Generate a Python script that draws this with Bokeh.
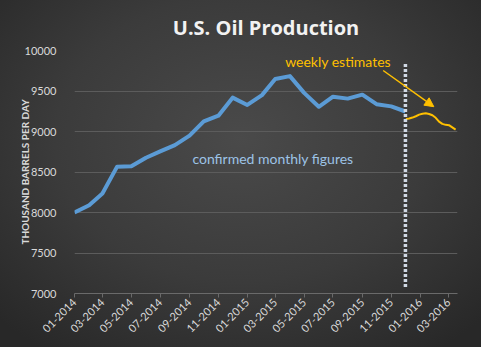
import math
import pandas as pd
from bokeh.plotting import figure
from bokeh.models import FixedTicker, Label, Arrow, NormalHead, Range1d
from bokeh.embed import file_html
from bokeh.resources import INLINE

# ---- data ----
monthly_dates = pd.date_range("2014-01-01", "2015-12-01", freq="MS")
monthly_values = [8000, 8090, 8234, 8566, 8570, 8676, 8754, 8832, 8949, 9125, 9195, 9418,
                  9328, 9449, 9648, 9684, 9477, 9305, 9430, 9406, 9455, 9337, 9310, 9247]

weekly_dates = pd.date_range("2015-12-02", periods=16, freq="7D")
weekly_values = [9153, 9161, 9172, 9188, 9208, 9220, 9224, 9216, 9200, 9169, 9122, 9094,
                 9082, 9078, 9051, 9024]

tick_labels = ["01-2014", "03-2014", "05-2014", "07-2014", "09-2014", "11-2014", "01-2015",
               "03-2015", "05-2015", "07-2015", "09-2015", "11-2015", "01-2016", "03-2016"]
y_ticks = [7000, 7500, 8000, 8500, 9000, 9500, 10000]

divider_date = monthly_dates[-1]
divider_range = (7080, 9835)

FONT = "Lato"
TXT = "#d9d9d9"

def ms(d):
    return pd.Timestamp(d).value / 1e6

tick_pos = [ms(pd.to_datetime(t, format="%m-%Y")) for t in tick_labels]

p = figure(width=481, height=347, x_axis_type="datetime", output_backend="svg",
           toolbar_location=None,
           x_range=Range1d(ms("2014-01-01"), ms("2016-03-20")),
           y_range=Range1d(7000, 10000),
           min_border_left=74, min_border_right=24, min_border_top=50, min_border_bottom=54)

p.styles = {"background": "radial-gradient(ellipse 70% 75% at 50% 40%, #4a4a4a 0%, #3b3b3b 55%, #282828 100%)"}
p.border_fill_alpha = 0
p.background_fill_alpha = 0
p.outline_line_color = None

p.title.text = "U.S. Oil Production"
p.title.align = "center"
p.title.text_font = "Open Sans"
p.title.text_font_size = "20px"
p.title.text_font_style = "bold"
p.title.text_color = "#f2f2f2"
p.title.offset = 0
p.title.standoff = 20

# axes
p.xaxis.ticker = FixedTicker(ticks=tick_pos)
p.xaxis.major_label_overrides = {tp: lab for tp, lab in zip(tick_pos, tick_labels)}
p.xaxis.major_label_orientation = math.pi / 4
p.xaxis.major_label_text_font = FONT
p.xaxis.major_label_text_font_size = "11px"
p.xaxis.major_label_text_color = TXT
p.xaxis.axis_line_color = "#6a6a6a"
p.xaxis.major_tick_line_color = "#6a6a6a"
p.xaxis.major_tick_out = 4
p.xaxis.major_tick_in = 0
p.xaxis.minor_tick_line_color = None
p.xaxis.major_label_standoff = 3

p.yaxis.ticker = FixedTicker(ticks=y_ticks)
p.yaxis.major_label_text_font = FONT
p.yaxis.major_label_text_font_size = "11px"
p.yaxis.major_label_text_color = TXT
p.yaxis.axis_line_color = None
p.yaxis.major_tick_line_color = None
p.yaxis.minor_tick_line_color = None
p.yaxis.major_label_standoff = 12
p.yaxis.axis_label = "THOUSAND BARRELS PER DAY"
p.yaxis.axis_label_text_font = FONT
p.yaxis.axis_label_text_font_size = "10px"
p.yaxis.axis_label_text_font_style = "bold"
p.yaxis.axis_label_text_color = TXT
p.yaxis.axis_label_standoff = -9

p.xgrid.grid_line_color = None
p.ygrid.grid_line_color = "#5c5c5c"
p.ygrid.grid_line_width = 1

# lines
p.line(monthly_dates, monthly_values, line_color="#5B9BD5", line_width=4, line_join="round")
p.line(weekly_dates, weekly_values, line_color="#FFC000", line_width=2, line_join="round")
p.segment(x0=[divider_date], y0=[divider_range[0]], x1=[divider_date], y1=[divider_range[1]],
          line_color="#d0d8e4", line_width=3.5, line_dash="3 2")

# annotations
p.add_layout(Label(x=ms("2015-03-22"), y=9859, text="weekly estimates", text_font=FONT,
                   text_font_size="14px", text_color="#FFC000", text_baseline="middle"))
p.add_layout(Label(x=ms("2014-09-07"), y=8671, text="confirmed monthly figures", text_font=FONT,
                   text_font_size="14px", text_color="#9DC3E6", text_baseline="middle"))
p.add_layout(Arrow(x_start=ms("2015-10-15"), y_start=9753, x_end=ms("2016-01-30"), y_end=9306,
                   line_color="#FFC000", line_width=1.5,
                   end=NormalHead(size=9, fill_color="#FFC000", line_color="#FFC000")))

open("out.html", "w").write(file_html(p, INLINE))
